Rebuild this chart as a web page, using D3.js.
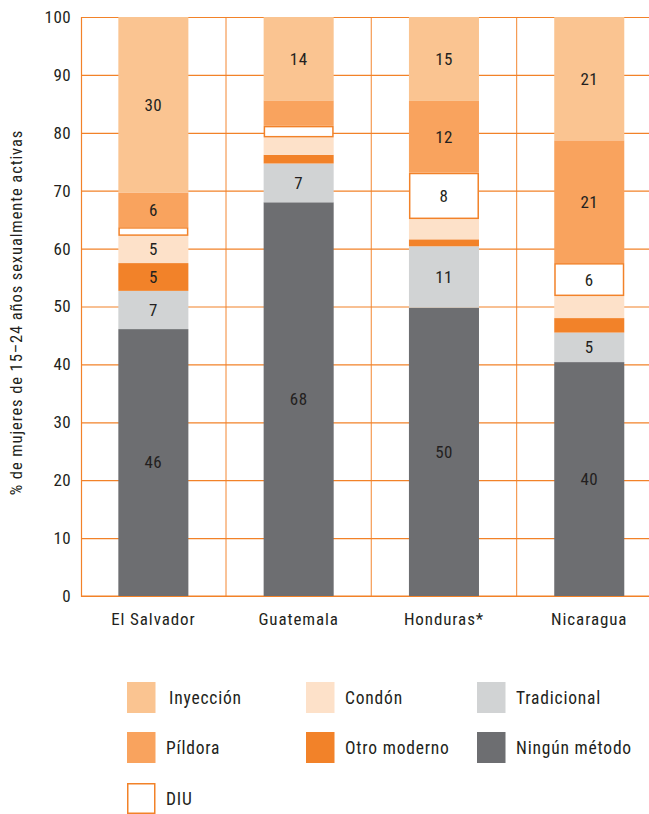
<!DOCTYPE html>
<html>
<head>
<meta charset="utf-8">
<script src="https://cdn.jsdelivr.net/npm/d3@7/dist/d3.min.js"></script>
<style>
  html, body { margin: 0; padding: 0; background: #fff; }
  text { font-family: "Roboto Condensed", "Liberation Sans Narrow", "DejaVu Sans", sans-serif; font-stretch: condensed; fill: #231f20; }
</style>
</head>
<body>
<svg id="chart" width="649" height="814"></svg>
<script>
// ---- Data ----
const countries = ["El Salvador", "Guatemala", "Honduras*", "Nicaragua"];
const methods = ["Ningún método", "Tradicional", "Otro moderno", "Condón", "DIU", "Píldora", "Inyección"];
const ninguno     = [46.1, 68.0, 49.8, 40.4];
const tradicional = [6.6, 6.7, 10.6, 5.1];
const otroModerno = [4.8, 1.5, 1.2, 2.5];
const condon      = [4.7, 3.0, 3.5, 3.8];
const diu         = [1.5, 2.0, 8.0, 5.7];
const pildora     = [6.0, 4.4, 12.4, 21.2];
const inyeccion   = [30.3, 14.4, 14.5, 21.3];
const yTicks = [0, 10, 20, 30, 40, 50, 60, 70, 80, 90, 100];
const yTitle = "% de mujeres de 15–24 años sexualmente activas";
const legendOrder = ["Inyección", "Condón", "Tradicional", "Píldora", "Otro moderno", "Ningún método", "DIU"];

(function () {
const seriesByMethod = {
  "Ningún método": ninguno, "Tradicional": tradicional, "Otro moderno": otroModerno,
  "Condón": condon, "DIU": diu, "Píldora": pildora, "Inyección": inyeccion
};
const colors = {
  "Inyección": "#fac491", "Píldora": "#f9a35e", "Condón": "#fde1c9",
  "Otro moderno": "#f28229", "Tradicional": "#d1d3d4", "Ningún método": "#6d6e71", "DIU": "#ffffff"
};
const orange = "#f28229";

const table = countries.map((c, i) => {
  const row = { country: c };
  methods.forEach(m => row[m] = seriesByMethod[m][i]);
  return row;
});
const stacked = d3.stack().keys(methods)(table);

// ---- Layout ----
const svg = d3.select("#chart");
const W = 649;
const mLeft = 81, mBottom = 596, mTop = 17;
const step = 145.3;
const x = d3.scaleBand().domain(countries)
  .range([mLeft, mLeft + step * 3.996]).paddingInner(0.518).paddingOuter(0.257);
const y = d3.scaleLinear().domain([0, 100]).range([mBottom, mTop]);

// grid + y axis
const yAxis = d3.axisLeft(y).tickValues(yTicks).tickSize(-(W - mLeft)).tickPadding(10);
const gy = svg.append("g").attr("transform", `translate(${mLeft},0)`).call(yAxis);
gy.select(".domain").attr("stroke", orange).attr("stroke-width", 1.2);
gy.selectAll(".tick line").attr("stroke", orange).attr("stroke-width", 1.2);
gy.selectAll(".tick text").style("font-size", "17px").style("letter-spacing", "0.4px").attr("fill", "#231f20");

// vertical separators between countries
const seps = countries.slice(1).map((c, i) => (x(countries[i]) + x.bandwidth() + x(c)) / 2);
svg.append("g").selectAll("line").data(seps).join("line")
  .attr("x1", d => d).attr("x2", d => d)
  .attr("y1", y(100)).attr("y2", y(0))
  .attr("stroke", orange).attr("stroke-opacity", 0.8).attr("stroke-width", 1.2);

// x axis
const xAxis = d3.axisBottom(x).tickSize(0).tickPadding(17);
const gx = svg.append("g").attr("transform", `translate(0,${mBottom})`).call(xAxis);
gx.select(".domain").remove();
gx.selectAll(".tick text").style("font-size", "17px").style("letter-spacing", "0.9px").attr("fill", "#231f20");
svg.append("line").attr("x1", mLeft).attr("x2", W).attr("y1", mBottom).attr("y2", mBottom)
  .attr("stroke", orange).attr("stroke-width", 1.2);

// bars
const layers = svg.append("g").selectAll("g").data(stacked).join("g");
layers.each(function(layer) {
  const g = d3.select(this);
  const isDIU = layer.key === "DIU";
  g.selectAll("rect").data(layer).join("rect")
    .attr("x", d => x(d.data.country) + (isDIU ? 0.75 : 0))
    .attr("width", x.bandwidth() - (isDIU ? 1.5 : 0))
    .attr("y", d => y(d[1]) + (isDIU ? 0.75 : 0))
    .attr("height", d => Math.max(0, y(d[0]) - y(d[1]) - (isDIU ? 1.5 : 0)))
    .attr("fill", colors[layer.key])
    .attr("stroke", isDIU ? orange : "none")
    .attr("stroke-width", isDIU ? 1.5 : 0);
  g.selectAll("text").data(layer.filter(d => Math.round(d[1] - d[0]) >= 5)).join("text")
    .attr("x", d => x(d.data.country) + x.bandwidth() / 2)
    .attr("y", d => (y(d[0]) + y(d[1])) / 2)
    .attr("dy", "0.35em")
    .attr("text-anchor", "middle")
    .style("font-size", "17px")
    .style("letter-spacing", "0.4px")
    .text(d => Math.round(d[1] - d[0]));
});

// y title
svg.append("text")
  .attr("transform", `translate(22,${(mTop + mBottom) / 2 + 6}) rotate(-90)`)
  .attr("text-anchor", "middle")
  .style("font-size", "16.5px")
  .style("letter-spacing", "0.9px")
  .text(yTitle);

// legend
const colX = [127, 306, 477];
const rowY = [682, 732, 783];
const lg = svg.append("g").selectAll("g").data(legendOrder).join("g")
  .attr("transform", (d, i) => `translate(${colX[i % 3]},${rowY[Math.floor(i / 3)]})`);
lg.append("rect")
  .attr("x", d => d === "DIU" ? 0.75 : 0).attr("y", d => d === "DIU" ? 0.75 : 0)
  .attr("width", d => d === "DIU" ? 27 : 28.5).attr("height", d => d === "DIU" ? 29.5 : 31)
  .attr("fill", d => colors[d])
  .attr("stroke", d => d === "DIU" ? orange : "none").attr("stroke-width", 1.5);
lg.append("text")
  .attr("x", d => d === "Inyección" ? 42 : 39).attr("y", 15.5).attr("dy", "0.35em")
  .style("font-size", "17.5px")
  .style("letter-spacing", "0.8px")
  .text(d => d);
})();
</script>
</body>
</html>
